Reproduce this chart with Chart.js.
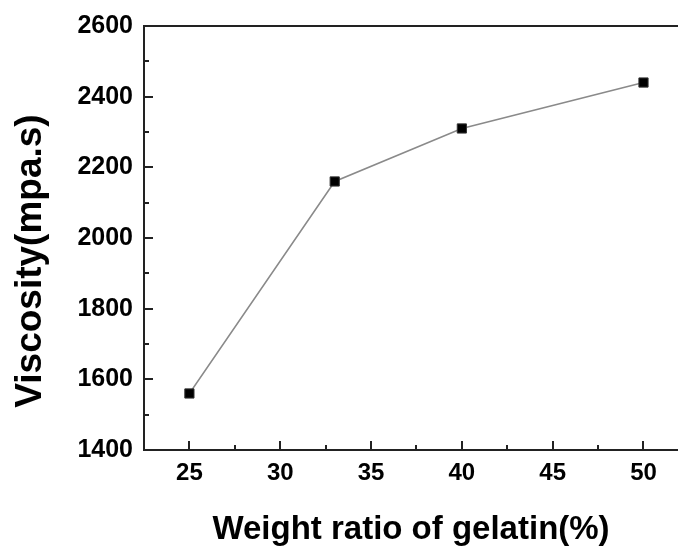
<!DOCTYPE html>
<html>
<head>
<meta charset="utf-8">
<script src="https://cdn.jsdelivr.net/npm/chart.js@4.4.0/dist/chart.umd.min.js"></script>
<style>
  html, body { margin: 0; padding: 0; background: #fff; overflow: hidden; }
  #chart { display: block; }
</style>
</head>
<body>
<canvas id="chart" width="678" height="548"></canvas>
<script>
// Datos
const gelatinRatio = [25, 33, 40, 50];
const viscosity = [1560, 2160, 2310, 2440];

// Marcas de los ejes
const xTickValues = [25, 30, 35, 40, 45, 50];
const xMinorTicks = [27.5, 32.5, 37.5, 42.5, 47.5];
const yTickValues = [1400, 1600, 1800, 2000, 2200, 2400, 2600];
const yMinorTicks = [1500, 1700, 1900, 2100, 2300, 2500];

const fuente = "'Liberation Sans', Arial, sans-serif";
const colorEje = '#222';

// Marcas hacia adentro (mayores y menores)
const marcasInternas = {
    id: 'marcasInternas',
    afterDraw(chart) {
        const ctx = chart.ctx;
        const xs = chart.scales.x;
        const ys = chart.scales.y;
        ctx.save();
        ctx.strokeStyle = colorEje;
        ctx.lineWidth = 2;
        xs.ticks.forEach(t => {
            const largo = xTickValues.includes(t.value) ? 9 : 5;
            const px = Math.round(xs.getPixelForValue(t.value));
            ctx.beginPath();
            ctx.moveTo(px, xs.top);
            ctx.lineTo(px, xs.top - largo);
            ctx.stroke();
        });
        ys.ticks.forEach(t => {
            const largo = yTickValues.includes(t.value) ? 9 : 5;
            const py = Math.round(ys.getPixelForValue(t.value));
            ctx.beginPath();
            ctx.moveTo(ys.right, py);
            ctx.lineTo(ys.right + largo, py);
            ctx.stroke();
        });
        ctx.restore();
    }
};

const ctx = document.getElementById('chart').getContext('2d');

new Chart(ctx, {
    type: 'line',
    data: {
        datasets: [{
            data: gelatinRatio.map((x, i) => ({ x: x, y: viscosity[i] })),
            borderColor: '#8a8a8a',
            borderWidth: 1.5,
            backgroundColor: '#000',
            pointBackgroundColor: '#000',
            pointBorderColor: '#333',
            pointBorderWidth: 1,
            pointStyle: 'rect',
            pointRadius: 6.5,
            tension: 0
        }]
    },
    options: {
        responsive: false,
        animation: false,
        layout: { autoPadding: false, padding: { top: 0, right: 0, bottom: 26, left: 0 } },
        plugins: {
            legend: { display: false },
            tooltip: { enabled: false },
            title: {
                display: true,
                position: 'left',
                text: 'Viscosity(mpa.s)',
                color: '#000',
                font: { family: fuente, size: 37, weight: 'bold', lineHeight: 1 },
                padding: { top: 12, bottom: 0 }
            }
        },
        scales: {
            x: {
                type: 'linear',
                position: 'bottom',
                min: 22.5,
                max: 51.9,
                afterBuildTicks: (scale) => {
                    scale.ticks = xTickValues.concat(xMinorTicks).sort((a, b) => a - b).map(v => ({ value: v }));
                },
                afterFit: (scale) => {
                    scale.height = 72;
                    scale.paddingLeft = 0;
                    scale.paddingRight = 0;
                },
                ticks: {
                    autoSkip: false,
                    maxRotation: 0,
                    padding: 9,
                    color: '#000',
                    font: { family: fuente, size: 24, weight: 'bold' },
                    callback: (v) => xTickValues.includes(v) ? String(v) : ''
                },
                grid: { display: false, drawTicks: false },
                border: { display: true, color: colorEje, width: 2 },
                title: {
                    display: true,
                    text: 'Weight ratio of gelatin(%)',
                    color: '#000',
                    font: { family: fuente, size: 33, weight: 'bold', lineHeight: 1 },
                    padding: { top: 0, bottom: -24.5 }
                }
            },
            xTop: {
                type: 'linear',
                position: 'top',
                min: 22.5,
                max: 51.9,
                afterFit: (scale) => {
                    scale.height = 25;
                    scale.paddingLeft = 0;
                    scale.paddingRight = 0;
                },
                ticks: { display: false },
                grid: { display: false, drawTicks: false },
                border: { display: true, color: colorEje, width: 2 }
            },
            y: {
                type: 'linear',
                min: 1400,
                max: 2600,
                afterBuildTicks: (scale) => {
                    scale.ticks = yTickValues.concat(yMinorTicks).sort((a, b) => a - b).map(v => ({ value: v }));
                },
                afterFit: (scale) => { scale.width = 95; },
                ticks: {
                    autoSkip: false,
                    padding: 11,
                    color: '#000',
                    font: { family: fuente, size: 25, weight: 'bold' },
                    callback: (v) => yTickValues.includes(v) ? String(v) : ''
                },
                grid: { display: false, drawTicks: false },
                border: { display: true, color: colorEje, width: 2 }
            }
        }
    },
    plugins: [marcasInternas]
});
</script>
</body>
</html>
